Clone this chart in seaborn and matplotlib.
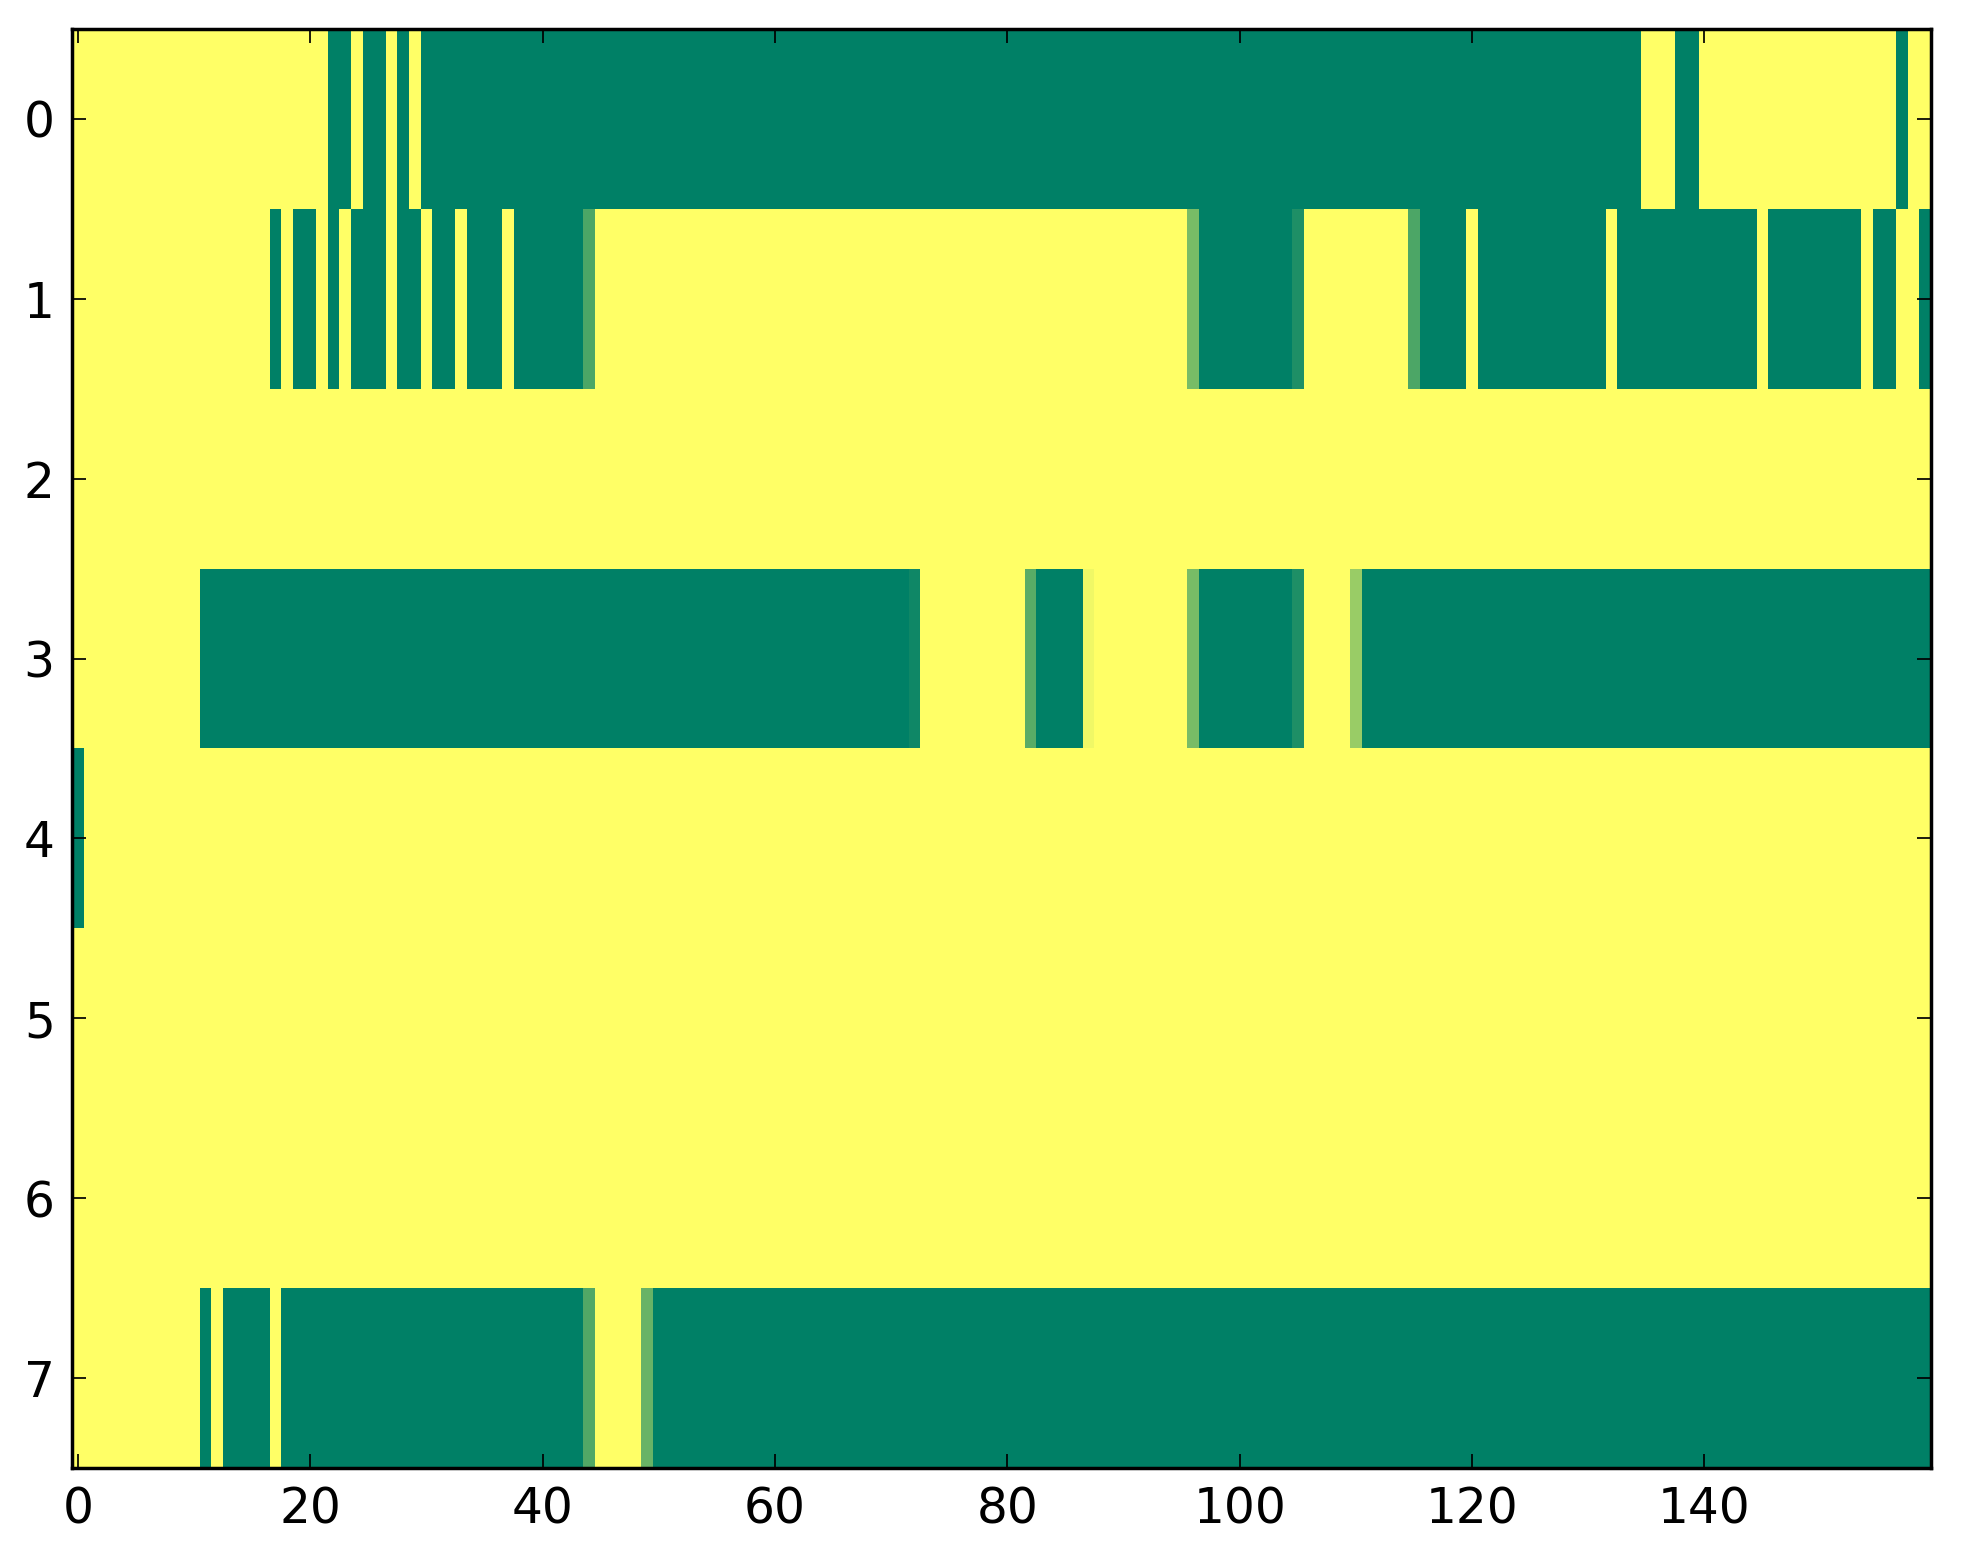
import numpy as np
import pandas as pd
import matplotlib
matplotlib.use("Agg")
import matplotlib.pyplot as plt
import seaborn as sns

# each row as runs of (first column, last column, value), 160 columns
n_cols = 160
row0 = [(0, 21, 1), (22, 23, 0), (24, 24, 1), (25, 26, 0), (27, 27, 1), (28, 28, 0),
        (29, 29, 1), (30, 134, 0), (135, 137, 1), (138, 139, 0), (140, 156, 1),
        (157, 157, 0), (158, 159, 1)]
row1 = [(0, 16, 1), (17, 17, 0), (18, 18, 1), (19, 20, 0), (21, 21, 1), (22, 22, 0),
        (23, 23, 1), (24, 26, 0), (27, 27, 1), (28, 29, 0), (30, 30, 1), (31, 32, 0),
        (33, 33, 1), (34, 36, 0), (37, 37, 1), (38, 43, 0), (44, 44, 0.3), (45, 95, 1),
        (96, 96, 0.47), (97, 104, 0), (105, 105, 0.12), (106, 114, 1), (115, 115, 0.3),
        (116, 119, 0), (120, 120, 1), (121, 131, 0), (132, 132, 1), (133, 144, 0),
        (145, 145, 1), (146, 153, 0), (154, 154, 1), (155, 156, 0), (157, 158, 1),
        (159, 159, 0)]
row2 = [(0, 159, 1)]
row3 = [(0, 10, 1), (11, 71, 0), (72, 72, 0.06), (73, 81, 1), (82, 82, 0.35),
        (83, 86, 0), (87, 87, 0.94), (88, 95, 1), (96, 96, 0.47), (97, 104, 0),
        (105, 105, 0.12), (106, 109, 1), (110, 110, 0.6), (111, 159, 0)]
row4 = [(0, 0, 0), (1, 159, 1)]
row5 = [(0, 159, 1)]
row6 = [(0, 159, 1)]
row7 = [(0, 10, 1), (11, 11, 0), (12, 12, 1), (13, 16, 0), (17, 17, 1), (18, 43, 0),
        (44, 44, 0.32), (45, 48, 1), (49, 49, 0.41), (50, 159, 0)]
rows = [row0, row1, row2, row3, row4, row5, row6, row7]

x_ticks = [0, 20, 40, 60, 80, 100, 120, 140]
y_ticks = [0, 1, 2, 3, 4, 5, 6, 7]

matrix = np.zeros((len(rows), n_cols))
for i, runs in enumerate(rows):
    for a, b, v in runs:
        matrix[i, a:b + 1] = v
df = pd.DataFrame(matrix)

fig = plt.figure(figsize=(1963 / 250, 1564 / 250), dpi=250)
ax = fig.add_axes([0.0367, 0.0614, 0.947, 0.9201])
sns.heatmap(df, cmap="summer", vmin=0, vmax=1, cbar=False, ax=ax,
            xticklabels=False, yticklabels=False)

for s in ax.spines.values():
    s.set_visible(True)
    s.set_linewidth(1.0)
    s.set_color("black")

ax.set_xticks(np.array(x_ticks) + 0.5)
ax.set_xticklabels([str(t) for t in x_ticks], rotation=0)
ax.set_yticks(np.array(y_ticks) + 0.5)
ax.set_yticklabels([str(t) for t in y_ticks], rotation=0)
ax.tick_params(direction="in", top=True, right=True, length=4, width=0.5,
               labelsize=14, pad=5, colors="black")
ax.set_xlabel("")
ax.set_ylabel("")

fig.savefig("out.png", dpi=250)
